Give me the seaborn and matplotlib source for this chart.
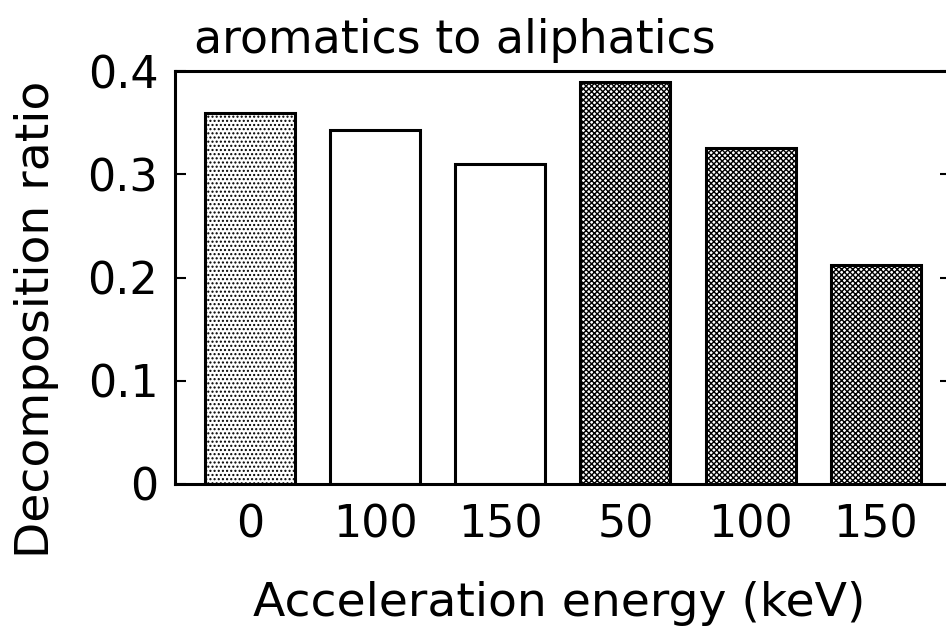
import matplotlib
matplotlib.use("Agg")
import matplotlib.pyplot as plt
import seaborn as sns
import pandas as pd

# Decomposition ratio (aromatics -> aliphatics) per acceleration energy
energy_labels = ["0", "100", "150", "50", "100", "150"]
ratios = [0.36, 0.343, 0.31, 0.39, 0.326, 0.212]
hatches = ["....", "", "", "xxxxxx", "xxxxxx", "xxxxxx"]
y_ticks = [0, 0.1, 0.2, 0.3, 0.4]
y_tick_labels = ["0", "0.1", "0.2", "0.3", "0.4"]

df = pd.DataFrame({
    "sample": [f"s{i}" for i in range(len(ratios))],
    "ratio": ratios,
})

sns.set_theme(style="ticks")
plt.rcParams["font.family"] = ["DejaVu Sans"]
plt.rcParams["hatch.linewidth"] = 1.0
plt.rcParams["text.color"] = "black"
plt.rcParams["axes.labelcolor"] = "black"
plt.rcParams["xtick.color"] = "black"
plt.rcParams["ytick.color"] = "black"

fig = plt.figure(figsize=(9.46, 6.31), dpi=100)
ax = fig.add_axes([0.185, 0.233, 0.82, 0.654])

sns.barplot(data=df, x="sample", y="ratio", color="white", width=0.72,
            edgecolor="black", linewidth=2.2, ax=ax, saturation=1)

for bar, h in zip(ax.patches, hatches):
    bar.set_hatch(h)
    bar.set_facecolor("white")

ax.set_xlim(-0.6, 5.6)
ax.set_ylim(0, 0.4)
ax.set_yticks(y_ticks)
ax.set_yticklabels(y_tick_labels)
ax.set_xticks(range(len(energy_labels)))
ax.set_xticklabels(energy_labels)

for side in ["left", "right", "top", "bottom"]:
    ax.spines[side].set_visible(True)
    ax.spines[side].set_linewidth(2.2)
    ax.spines[side].set_color("black")

ax.tick_params(axis="y", direction="in", length=8, width=1.5,
               labelsize=32, pad=12, right=True)
ax.tick_params(axis="x", length=0, labelsize=32, pad=14)

ax.set_xlabel("Acceleration energy (keV)", fontsize=34)
ax.xaxis.set_label_coords(0.495, -0.235)
ax.set_ylabel("Decomposition ratio", fontsize=34)
ax.yaxis.set_label_coords(-0.15, 0.40)
ax.set_title("aromatics to aliphatics", fontsize=33, loc="left", x=0.025, pad=13)

fig.savefig("out.png", dpi=100)
